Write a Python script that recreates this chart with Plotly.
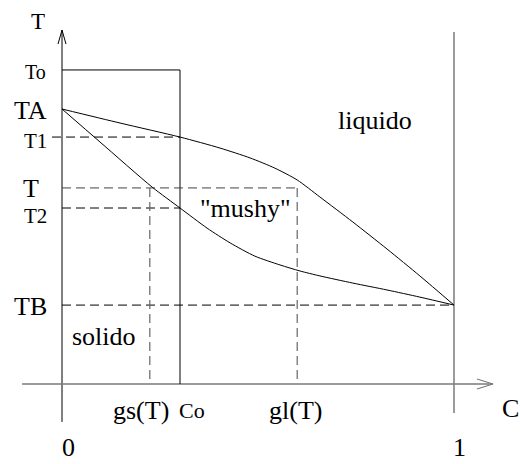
import plotly.graph_objects as go

# Characteristic temperatures (TA = 1 normalisation) and compositions
level_names = ["To", "TA", "T1", "T", "T2", "TB"]
level_values = [1.142, 1.0, 0.898, 0.713, 0.640, 0.287]
T0, TA, T1, T_, T2, TB = level_values

comp_names = ["gs(T)", "Co", "gl(T)"]
comp_values = [0.224, 0.301, 0.600]
GS, CO, GL = comp_values

# Liquidus curve (upper boundary of the mushy zone)
liq_c = [0.0, 0.148, 0.301, 0.403, 0.480, 0.543, 0.600, 0.658, 0.742, 0.829, 0.913, 1.0]
liq_t = [1.0, 0.949, 0.898, 0.858, 0.822, 0.785, 0.742, 0.680, 0.589, 0.491, 0.393, 0.287]

# Solidus curve (lower boundary of the mushy zone)
sol_c = [0.0, 0.097, 0.230, 0.301, 0.370, 0.429, 0.492, 0.556, 0.607, 0.658, 0.742, 0.829, 0.913, 1.0]
sol_t = [1.0, 0.880, 0.716, 0.640, 0.567, 0.513, 0.465, 0.433, 0.411, 0.393, 0.367, 0.342, 0.316, 0.287]

# Frame extents
X_RANGE = [-0.1582, 1.1684]
Y_RANGE = [-0.2909, 1.3964]
XAXIS_START, XAXIS_END = -0.102, 1.0995
YAXIS_BOTTOM, YAXIS_TOP = -0.138, 1.287
RIGHT_BOTTOM, RIGHT_TOP = -0.105, 1.28

SERIF = "Liberation Serif, Times New Roman, serif"
DASH = "9px,5px"

fig = go.Figure()


def seg(xs, ys, color="black", width=1.0, dash=None, shape="linear"):
    fig.add_trace(go.Scatter(
        x=xs, y=ys, mode="lines", hoverinfo="skip", showlegend=False,
        line=dict(color=color, width=width, dash=dash, shape=shape,
                  smoothing=0.7 if shape == "spline" else None),
    ))


# Axes with open arrowheads
seg([0, 0], [YAXIS_BOTTOM, YAXIS_TOP], "black", 1.0)
seg([-0.0102, 0, 0.0102], [YAXIS_TOP - 0.0509, YAXIS_TOP, YAXIS_TOP - 0.0509], "black", 1.0)
seg([XAXIS_START, XAXIS_END], [0, 0], "#7a7a7a", 1.5)
seg([XAXIS_END - 0.0408, XAXIS_END, XAXIS_END - 0.0408], [0.0182, 0, -0.0182], "#7a7a7a", 1.2)
seg([1, 1], [RIGHT_BOTTOM, RIGHT_TOP], "#7a7a7a", 1.5)

# Initial state box: composition Co at temperature To
seg([0, CO, CO], [T0, T0, 0], "black", 1.0)

# Guide lines
seg([-0.0255, CO], [T1, T1], "black", 1.0, DASH)
seg([0, GL], [T_, T_], "#444", 1.0, DASH)
seg([0, CO], [T2, T2], "black", 1.0, DASH)
seg([0, 1], [TB, TB], "black", 1.0, DASH)
seg([GS, GS], [T_, 0], "#666", 1.2, DASH)
seg([GL, GL], [T_, 0], "#666", 1.2, DASH)

# Phase boundaries
seg(liq_c, liq_t, "black", 1.0, shape="spline")
seg(sol_c, sol_t, "black", 1.0, shape="spline")

annotations = []


def label(text, x, y, size, xshift=0, yshift=0):
    annotations.append(dict(
        text=text, x=x, y=y, xref="x", yref="y", showarrow=False,
        xanchor="center", yanchor="middle", xshift=xshift, yshift=yshift,
        font=dict(family=SERIF, size=size, color="black"),
    ))


# Temperature labels along the vertical axis
level_style = {
    "To": (20, -27, -2),
    "TA": (26, -32, -1),
    "T1": (21, -27, -4),
    "T": (26, -31, -1),
    "T2": (21, -27, -8),
    "TB": (26, -32, -1),
}
for name, val in zip(level_names, level_values):
    size, xs, ys = level_style[name]
    label(name, 0, val, size, xs, ys)

# Composition labels under the horizontal axis
comp_style = {"gs(T)": (26, -9, -26), "Co": (22, 12, -26), "gl(T)": (26, -2, -26)}
for name, val in zip(comp_names, comp_values):
    size, xs, ys = comp_style[name]
    label(name, val, 0, size, xs, ys)

label("0", 0, 0, 26, 6, -63)
label("1", 1, 0, 26, 6, -63)
label("T", 0, YAXIS_TOP, 23, -24, 9)
label("C", XAXIS_END, 0, 26, 18, -24)

# Phase regions
label("liquido", 0.798, 0.96, 26)
label('"mushy"', 0.469, 0.64, 26)
label("solido", 0.107, 0.171, 26)

fig.update_layout(
    width=520, height=464,
    margin=dict(l=0, r=0, t=0, b=0, pad=0),
    paper_bgcolor="white", plot_bgcolor="white",
    xaxis=dict(range=X_RANGE, visible=False, fixedrange=True),
    yaxis=dict(range=Y_RANGE, visible=False, fixedrange=True),
    annotations=annotations,
)

fig.write_html("out.html", config={"displayModeBar": False})
